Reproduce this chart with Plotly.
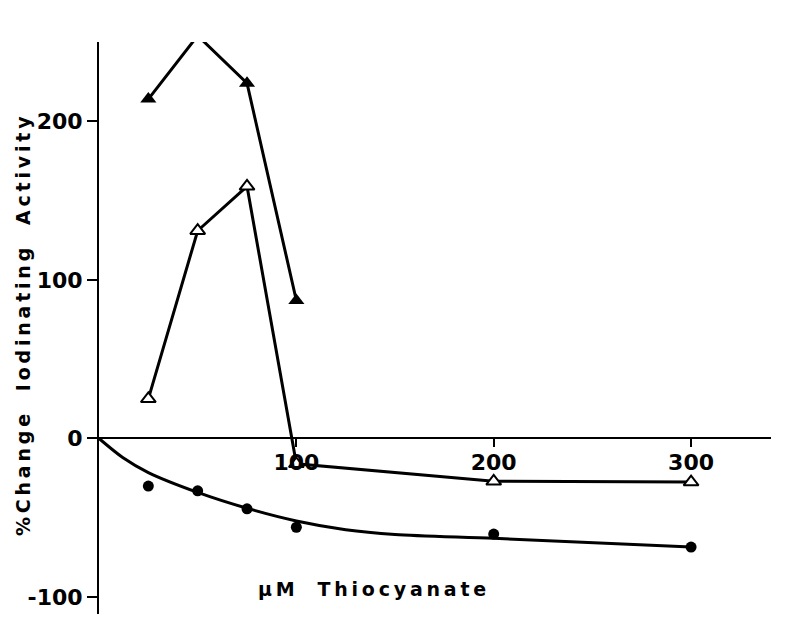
import plotly.graph_objects as go

# Data (uM thiocyanate vs % change iodinating activity)
filled_tri_x = [25, 50, 75, 100]
filled_tri_y = [214, 254, 224, 87]

open_tri_x = [25, 50, 75, 100, 200, 300]
open_tri_y = [25, 131, 159, -16, -27, -27.5]

circle_x = [25, 50, 75, 100, 200, 300]
circle_y = [-30, -33, -44.4, -56, -60.3, -68.5]

# smooth fitted curve through the filled circles
curve_x = [0, 12, 25, 50, 75, 100, 125, 150, 200, 300]
curve_y = [0, -12, -21.5, -34, -44, -52, -57.5, -60.5, -63, -68.5]

x_ticks = [100, 200, 300]
y_ticks = [-100, 0, 100, 200]

X_RANGE = [0, 340.5]
Y_RANGE = [-110.7, 250]

FONT = "DejaVu Sans"
THIN = "\u2009"


def spaced(text, gap=THIN, word_gap=6):
    # letter-spaced label, words separated by wider gaps
    words = text.split(" ")
    return (gap * word_gap).join(gap.join(w) for w in words)


fig = go.Figure()

fig.add_trace(go.Scatter(
    x=curve_x, y=curve_y, mode="lines",
    line=dict(color="black", width=3, shape="spline", smoothing=0.8),
    hoverinfo="skip", cliponaxis=False))

fig.add_trace(go.Scatter(
    x=circle_x, y=circle_y, mode="markers", cliponaxis=False,
    marker=dict(symbol="circle", size=11, color="black")))

fig.add_trace(go.Scatter(
    x=open_tri_x, y=open_tri_y, mode="lines+markers", cliponaxis=False,
    line=dict(color="black", width=3),
    marker=dict(symbol="triangle-up", size=13, color="white",
                line=dict(color="black", width=2))))

fig.add_trace(go.Scatter(
    x=filled_tri_x, y=filled_tri_y, mode="lines+markers", cliponaxis=False,
    line=dict(color="black", width=3),
    marker=dict(symbol="triangle-up", size=14, color="black")))

# put the x axis on y = 0
zero_pos = (0 - Y_RANGE[0]) / (Y_RANGE[1] - Y_RANGE[0])

fig.update_layout(
    width=797, height=635,
    margin=dict(l=91, r=34, t=34, b=29, autoexpand=False),
    paper_bgcolor="white", plot_bgcolor="white",
    showlegend=False,
    font=dict(family=FONT, color="black"),
    xaxis=dict(
        range=X_RANGE, anchor="free", position=zero_pos,
        showline=True, linecolor="black", linewidth=2,
        showgrid=False, zeroline=False, automargin=False,
        tickmode="array", tickvals=x_ticks,
        ticks="outside", ticklen=8, tickwidth=2, tickcolor="black",
        ticklabelstandoff=-4,
        tickfont=dict(family=FONT, size=22, weight="bold"),
    ),
    yaxis=dict(
        range=Y_RANGE,
        showline=True, linecolor="black", linewidth=2,
        showgrid=False, zeroline=False, automargin=False,
        tickmode="array", tickvals=y_ticks,
        ticktext=[str(v) for v in y_ticks],
        ticks="outside", ticklen=10, tickwidth=2, tickcolor="black",
        tickfont=dict(family=FONT, size=22, weight="bold"),
    ),
)

fig.add_annotation(
    text=spaced("%Change Iodinating Activity"),
    xref="paper", yref="paper", x=-0.113, y=(613 - 325) / 572,
    xanchor="center", yanchor="middle", textangle=-90, showarrow=False,
    font=dict(family=FONT, size=19, weight="bold"))

fig.add_annotation(
    text=spaced("\u03bcM Thiocyanate"),
    xref="paper", yref="paper", x=(371 - 98) / 672, y=(613 - 588) / 572,
    xanchor="center", yanchor="middle", showarrow=False,
    font=dict(family=FONT, size=19, weight="bold"))

fig.write_html("out.html")
